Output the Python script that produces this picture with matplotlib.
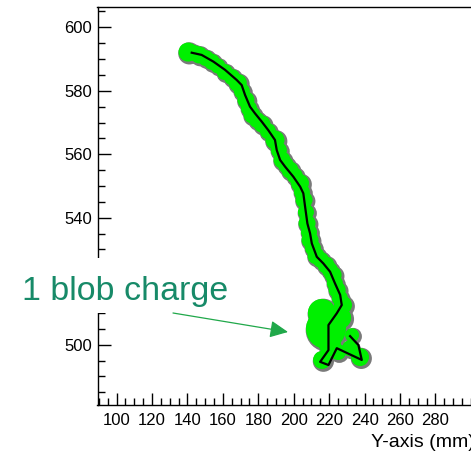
import matplotlib
matplotlib.use("Agg")
import matplotlib.pyplot as plt
from matplotlib.patches import Rectangle, FancyArrowPatch
from matplotlib.ticker import MultipleLocator, FixedLocator, FixedFormatter
from matplotlib.transforms import ScaledTranslation

# ---- data ----
track_x = [142.4, 148.0, 154.6, 161.2, 167.8, 170.6, 172.5, 175.3, 178.1, 181.9,
           185.6, 189.4, 190.4, 192.3, 195.1, 199.8, 203.6, 205.4, 206.4, 207.7,
           209.2, 210.2, 213.0, 216.7, 220.5, 223.3, 226.2, 227.1, 224.3, 219.6,
           219.6, 214.9, 219.6, 224.3, 238.4, 236.5, 231.8]
track_y = [592.0, 591.3, 589.2, 586.6, 583.4, 581.8, 578.7, 575.0, 572.9, 570.3,
           567.6, 564.5, 561.3, 558.2, 556.1, 552.9, 549.8, 547.7, 543.5, 538.2,
           535.1, 531.9, 527.7, 525.6, 523.0, 519.3, 515.7, 512.5, 509.9, 506.2,
           498.3, 494.6, 493.6, 498.9, 495.2, 499.9, 502.7]

blob_x = [140.3, 146.5, 153.8, 161.1, 168.4, 173.0, 176.5, 182.1, 189.4, 193.4,
          197.9, 203.5, 205.8, 207.5, 209.2, 212.6, 218.2, 222.2, 224.5, 227.8,
          218.2, 215.9, 226.2, 220.5, 216.0, 225.0, 231.8, 237.4, 232.9,
          143.6, 150.4, 157.2, 165.1, 170.7, 174.7, 179.2, 185.4, 191.6, 195.6,
          200.6, 204.6, 206.9, 208.6, 210.8, 215.3, 220.4, 223.2, 226.0]
blob_y = [592.2, 591.3, 589.1, 585.9, 582.5, 577.1, 572.4, 569.5, 564.5, 558.2,
          555.0, 550.9, 545.6, 538.3, 533.0, 528.0, 525.1, 522.0, 517.3, 512.5,
          505.0, 510.0, 508.5, 499.9, 495.2, 497.7, 498.9, 496.1, 503.0,
          591.9, 590.3, 587.8, 584.3, 579.9, 574.5, 570.8, 567.3, 561.3, 556.6,
          553.2, 548.1, 541.8, 535.5, 530.5, 526.7, 523.5, 519.4, 514.7]
blob_charge = [9.5, 8.5, 8, 8, 9, 8.5, 8.5, 8.5, 9.5, 8.5,
               8.5, 9, 8.5, 8.5, 8.5, 8.5, 8.5, 8.5, 8.5, 9,
               20, 14, 11, 11, 9, 8, 8, 9, 7,
               8, 8, 7.5, 8, 8, 8, 8, 8, 8, 8,
               8, 8, 8, 8, 8, 8, 8, 8, 8]

x_ticks = [100, 120, 140, 160, 180, 200, 220, 240, 260, 280]
y_ticks = [500, 520, 540, 560, 580, 600]
y_tick_labels = ["500", "", "540", "560", "580", "600"]  # 520 hidden under the note
x_label = "Y-axis (mm)"
annotation_text = "1 blob charge"

# ---- figure ----
W, H = 471, 453
fig = plt.figure(figsize=(W / 100, H / 100), dpi=100)
plt.rcParams['font.family'] = ['Liberation Sans', 'DejaVu Sans']

left_px, right_px, top_px, bottom_px = 97.5, 473.0, 7.0, 404.7
ax = fig.add_axes([left_px / W, 1 - bottom_px / H,
                   (right_px - left_px) / W, (bottom_px - top_px) / H])
ax.set_xlim(89.2, 301.2)
ax.set_ylim(481.1, 606.4)

# blobs: gray halo then green
sizes = [(1.44 * r) ** 2 for r in blob_charge]
halo_sizes = [(1.44 * (r + 1.6)) ** 2 for r in blob_charge]
off = ScaledTranslation(1.3 / 100, -1.3 / 100, fig.dpi_scale_trans)
ax.scatter(blob_x, blob_y, s=halo_sizes, c='#7a7a7a', linewidths=0,
           transform=ax.transData + off, zorder=2)
ax.scatter(blob_x, blob_y, s=sizes, c='#00f000', linewidths=0, zorder=3)
ax.plot(track_x, track_y, color='black', lw=1.6, zorder=4)

# axes styling
for side in ['left', 'top', 'bottom', 'right']:
    ax.spines[side].set_linewidth(1.0)
    ax.spines[side].set_color('black')
ax.xaxis.set_major_locator(FixedLocator(x_ticks))
ax.yaxis.set_major_locator(FixedLocator(y_ticks))
ax.yaxis.set_major_formatter(FixedFormatter(y_tick_labels))
ax.xaxis.set_minor_locator(MultipleLocator(5))
ax.yaxis.set_minor_locator(MultipleLocator(5))
ax.tick_params(axis='both', which='major', direction='in', length=9, width=1.0,
               labelsize=12, top=False, right=False)
ax.tick_params(axis='both', which='minor', direction='in', length=5, width=1.0,
               top=False, right=False)
ax.tick_params(axis='x', which='major', pad=6)
ax.tick_params(axis='y', which='major', pad=4)

# axis title, right aligned at the (cropped) end of the axis
fig.text(475 / W, 1 - 447 / H, x_label, fontsize=14, ha='right',
         va='baseline', color='black')

# white box over the axis with the annotation
fig.add_artist(Rectangle((5 / W, 1 - 313 / H), 240 / W, 55 / H,
                         transform=fig.transFigure, facecolor='white',
                         edgecolor='none', zorder=10))
fig.text(22.5 / W, 1 - 300 / H, annotation_text, fontsize=24.5,
         color='#178a68', ha='left', va='baseline', zorder=11)
arrow = FancyArrowPatch((1.73, (H - 313) / 100), (2.88, (H - 332) / 100),
                        transform=fig.dpi_scale_trans,
                        arrowstyle='-|>,head_length=11,head_width=5.2',
                        mutation_scale=1, color='#20a84a', lw=0.9,
                        shrinkA=0, shrinkB=0, zorder=12)
fig.add_artist(arrow)

fig.savefig('out.png', dpi=100)
